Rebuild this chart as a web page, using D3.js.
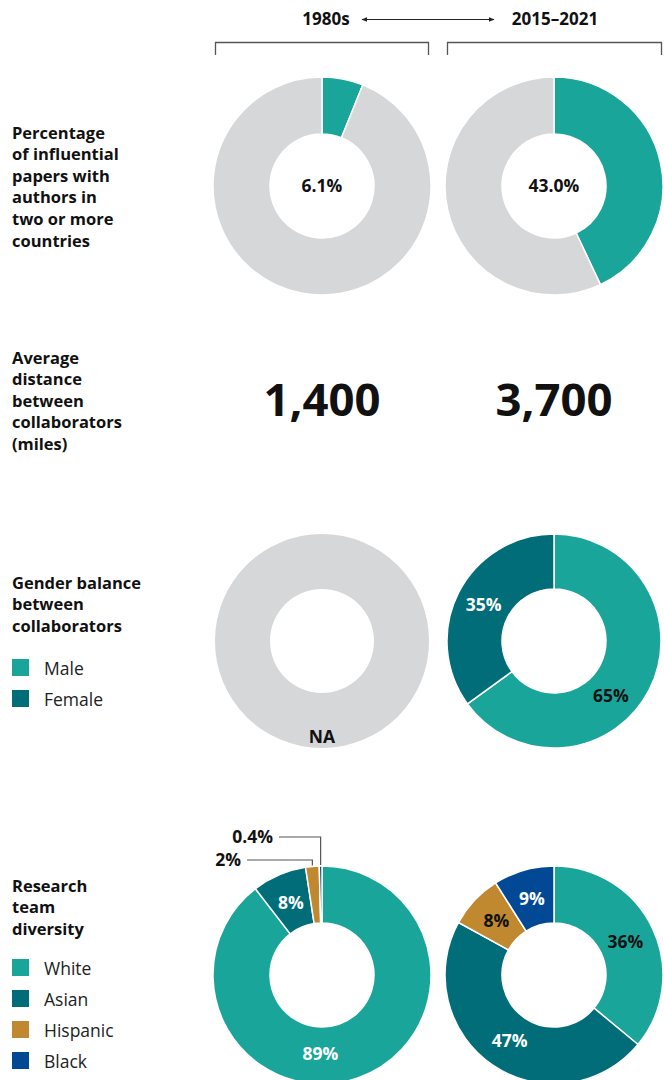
<!DOCTYPE html>
<html>
<head>
<meta charset="utf-8">
<script src="https://cdn.jsdelivr.net/npm/d3@7"></script>
<style>
  body { margin: 0; background: #fff; }
  svg { display: block; font-family: "Open Sans", "Noto Sans", sans-serif; }
</style>
</head>
<body>
<svg id="chart" width="664" height="1080"></svg>
<script>
// periods on top
var periods = ["1980s", "2015\u20132021"];

// row 1: international papers (share, %)
var intlShare = [6.1, 43.0];

// row 2: distance between collaborators (miles)
var distance = ["1,400", "3,700"];

// row 3: gender
var genderCats = ["Male", "Female"];
var gender2015 = [65, 35];

// row 4: diversity
var raceCats = ["White", "Asian", "Hispanic", "Black"];
var race1980 = [89, 8, 2, 0.4];
var race2015 = [36, 47, 8, 9];
var race1980Labels = ["89%", "8%", "2%", "0.4%"];
var race2015Labels = ["36%", "47%", "8%", "9%"];

var rowTitles = [
    ["Percentage", "of influential", "papers with", "authors in", "two or more", "countries"],
    ["Average", "distance", "between", "collaborators", "(miles)"],
    ["Gender balance", "between", "collaborators"],
    ["Research", "team", "diversity"]
];

var colors = {
    White: "#1aa59b", Male: "#1aa59b",
    Asian: "#006d78", Female: "#006d78",
    Hispanic: "#c0882f",
    Black: "#024995",
    grey: "#d6d7d9"
};

var svg = d3.select("#chart");
var colX = [322, 554];
var outerR = 109, innerR = 52;
var labelSize = 17.5;

var pie = d3.pie().sort(null).value(function (d) { return d.value; });
var labelArc = d3.arc().innerRadius(79).outerRadius(79);

/**
 * draws one donut, slices given as {name, value, color}
 */
function donut(cx, cy, slices, r) {
    var g = svg.append("g").attr("transform", "translate(" + cx + "," + cy + ")");
    var a = d3.arc().innerRadius(innerR).outerRadius(r || outerR);
    var arcs = pie(slices);
    g.selectAll("path")
        .data(arcs)
        .enter().append("path")
        .attr("d", a)
        .attr("fill", function (d) { return d.data.color; })
        .attr("stroke", "#fff")
        .attr("stroke-width", slices.length > 1 ? 1.5 : 0);
    return {g: g, arcs: arcs};
}

// label position: centroid, big slices get their label turned a bit clockwise
function labelPos(a, shiftDeg) {
    var s = (shiftDeg || 0) * Math.PI / 180;
    return labelArc.centroid({startAngle: a.startAngle + s, endAngle: a.endAngle + s});
}

function sliceLabels(d, labels, fills, shifts) {
    d.g.selectAll("text.lab")
        .data(d.arcs.slice(0, labels.length))
        .enter().append("text")
        .attr("class", "lab")
        .attr("transform", function (a, i) {
            return "translate(" + labelPos(a, shifts ? shifts[i] : 0) + ")";
        })
        .attr("text-anchor", "middle")
        .attr("dy", "0.36em")
        .attr("font-size", labelSize)
        .attr("font-weight", 700)
        .attr("fill", function (a, i) { return fills[i]; })
        .text(function (a, i) { return labels[i]; });
}

// ---- header ----
var head = svg.append("g");
head.selectAll("text")
    .data(periods)
    .enter().append("text")
    .attr("x", function (d, i) { return colX[i] + (i == 0 ? 4 : 1); })
    .attr("y", 25)
    .attr("text-anchor", "middle")
    .attr("font-size", 17)
    .attr("font-weight", 700)
    .attr("fill", "#111")
    .text(function (d) { return d; });

svg.append("defs").append("marker")
    .attr("id", "ah")
    .attr("viewBox", "0 0 10 10")
    .attr("refX", 9).attr("refY", 5)
    .attr("markerWidth", 6).attr("markerHeight", 6)
    .attr("orient", "auto-start-reverse")
    .append("path").attr("d", "M0,1 L10,5 L0,9 Z").attr("fill", "#222");

head.append("line")
    .attr("x1", 362).attr("x2", 494)
    .attr("y1", 19.5).attr("y2", 19.5)
    .attr("stroke", "#222").attr("stroke-width", 1)
    .attr("marker-start", "url(#ah)")
    .attr("marker-end", "url(#ah)");

// brackets
[[215.5, 428.5], [447.5, 661.5]].forEach(function (b) {
    head.append("path")
        .attr("d", "M" + b[0] + ",55 V42.5 H" + b[1] + " V55")
        .attr("fill", "none")
        .attr("stroke", "#555")
        .attr("stroke-width", 1.3);
});

// ---- row titles ----
var titleY = [138.5, 363.5, 588.5, 891.5];
rowTitles.forEach(function (lines, r) {
    var t = svg.append("text")
        .attr("x", 12)
        .attr("y", titleY[r])
        .attr("font-size", 16.5)
        .attr("font-weight", 700)
        .attr("fill", "#111");
    t.selectAll("tspan")
        .data(lines)
        .enter().append("tspan")
        .attr("x", 12)
        .attr("dy", function (d, i) { return i == 0 ? 0 : 21.6; })
        .text(function (d) { return d; });
});

// ---- row 1 ----
var row1Y = 186;
intlShare.forEach(function (v, i) {
    var d = donut(colX[i], row1Y, [
        {name: "yes", value: v, color: colors.White},
        {name: "no", value: 100 - v, color: colors.grey}
    ]);
    d.g.append("text")
        .attr("text-anchor", "middle")
        .attr("dy", "0.36em")
        .attr("font-size", labelSize)
        .attr("font-weight", 700)
        .attr("fill", "#111")
        .text(d3.format(".1f")(v) + "%");
});

// ---- row 2 ----
svg.selectAll("text.big")
    .data(distance)
    .enter().append("text")
    .attr("class", "big")
    .attr("x", function (d, i) { return colX[i]; })
    .attr("y", 416)
    .attr("text-anchor", "middle")
    .attr("font-size", 45.5)
    .attr("font-weight", 700)
    .attr("fill", "#111")
    .text(function (d) { return d; });

// ---- row 3 ----
var row3Y = 641;
var na = donut(colX[0], row3Y, [{name: "NA", value: 1, color: colors.grey}], 107);
na.g.append("text")
    .attr("y", 96)
    .attr("text-anchor", "middle")
    .attr("dy", "0.36em")
    .attr("font-size", labelSize)
    .attr("font-weight", 700)
    .attr("fill", "#111")
    .text("NA");

var g3 = donut(colX[1], row3Y, genderCats.map(function (c, i) {
    return {name: c, value: gender2015[i], color: colors[c]};
}), 107);
sliceLabels(g3, gender2015.map(function (v) { return v + "%"; }), ["#111", "#fff"], [17, 0]);

function legend(cats, base) {
    var lg = svg.append("g");
    cats.forEach(function (c, i) {
        lg.append("rect")
            .attr("x", 12).attr("y", base + i * 31 - 16)
            .attr("width", 17).attr("height", 17)
            .attr("fill", colors[c]);
        lg.append("text")
            .attr("x", 44).attr("y", base + i * 31)
            .attr("font-size", 17.5)
            .attr("fill", "#222")
            .text(c);
    });
}
legend(genderCats, 675);

// ---- row 4 ----
var row4Y = 975;
var d80 = donut(colX[0], row4Y, raceCats.map(function (c, i) {
    return {name: c, value: race1980[i], color: colors[c]};
}));
// only White and Asian are labelled inside
sliceLabels(d80, race1980Labels.slice(0, 2), ["#fff", "#fff"], [20, 0]);

// leader lines for the thin slices
var outerPt = d3.arc().innerRadius(outerR).outerRadius(outerR);
var leaders = [{idx: 3, y: 837, x: 279}, {idx: 2, y: 860, x: 247}];
leaders.forEach(function (l) {
    var p = outerPt.centroid(d80.arcs[l.idx]);
    var px = colX[0] + p[0], py = row4Y + p[1];
    svg.append("path")
        .attr("d", "M" + px + "," + (py - 1) + " V" + l.y + " H" + l.x)
        .attr("fill", "none")
        .attr("stroke", "#555")
        .attr("stroke-width", 1.2);
    svg.append("text")
        .attr("x", l.x - 6).attr("y", l.y)
        .attr("dy", "0.36em")
        .attr("text-anchor", "end")
        .attr("font-size", labelSize)
        .attr("font-weight", 700)
        .attr("fill", "#111")
        .text(race1980Labels[l.idx]);
});

var d15 = donut(colX[1], row4Y, raceCats.map(function (c, i) {
    return {name: c, value: race2015[i], color: colors[c]};
}));
sliceLabels(d15, race2015Labels, ["#111", "#fff", "#111", "#fff"]);

legend(raceCats, 975);
</script>
</body>
</html>
